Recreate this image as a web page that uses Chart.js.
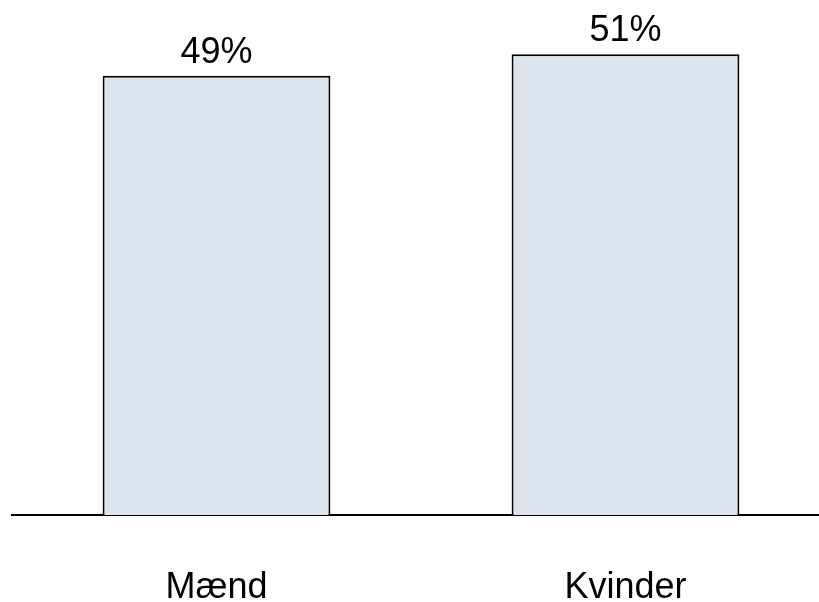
<!DOCTYPE html>
<html><head><meta charset="utf-8">
<script src="https://cdn.jsdelivr.net/npm/chart.js@4"></script>
<style>html,body{margin:0;padding:0;overflow:hidden;background:#fff}#wrap{width:830px;height:602px}</style>
</head><body><div id="wrap"><canvas id="c" width="830" height="602"></canvas></div>
<script>
const categories = ["Mænd", "Kvinder"];
const values = [48.8, 51.2];
const valueLabels = ["49%", "51%"];

const labelPlugin = {
  id: 'valLabels',
  afterDatasetsDraw(chart) {
    const ctx = chart.ctx;
    const meta = chart.getDatasetMeta(0);
    ctx.save();
    ctx.font = '36px "Liberation Sans", Arial, sans-serif';
    ctx.fillStyle = '#000';
    ctx.textAlign = 'center';
    ctx.textBaseline = 'alphabetic';
    meta.data.forEach((bar, i) => {
      ctx.fillText(valueLabels[i], bar.x, bar.y - 13);
    });
    ctx.restore();
  }
};

new Chart(document.getElementById('c'), {
  type: 'bar',
  data: {
    labels: categories,
    datasets: [{
      data: values,
      backgroundColor: '#dee4ee',
      borderColor: '#000',
      borderWidth: 2,
      borderSkipped: 'bottom',
      barPercentage: 1,
      categoryPercentage: 0.557
    }]
  },
  options: {
    responsive: false,
    animation: false,
    devicePixelRatio: 1,
    layout: { padding: { top: 20, left: 12, right: 0, bottom: 0 } },
    plugins: { legend: { display: false }, tooltip: { enabled: false } },
    scales: {
      y: { display: false, min: 0, max: 55 },
      x: {
        grid: { display: false, drawTicks: false },
        border: { display: true, color: '#000', width: 2 },
        ticks: { color: '#000', padding: 51, font: { family: '"Liberation Sans", Arial, sans-serif', size: 36 } },
        afterFit(scale) { scale.height = 87; }
      }
    }
  },
  plugins: [labelPlugin]
});
</script></body></html>
